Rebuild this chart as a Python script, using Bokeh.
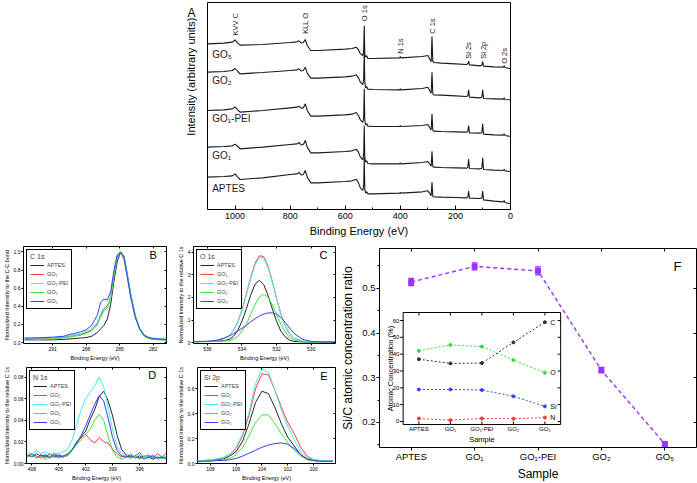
import math
from bokeh.plotting import figure
from bokeh.models import (Range1d, LinearAxis, FixedTicker, Label, Legend, LegendItem,
                          ColumnDataSource, Whisker, TeeHead, PrintfTickFormatter,
                          CustomJSTickFormatter)
from bokeh.layouts import row, column
from bokeh.embed import file_html
from bokeh.resources import INLINE
from bokeh.core.properties import value

FONT = "Liberation Sans"

# ---------------- data ----------------
samples = ["APTES", "GO\u2081", "GO\u2081-PEI", "GO\u2082", "GO\u2085"]

# Panel A: survey spectra (binding energy eV, arbitrary intensity)
survey_ev = [1100, 1040, 1010, 1000, 990, 982, 900, 800, 775, 768, 760, 752, 745, 738, 725, 700,
             600, 575, 560, 552, 545, 536, 533, 531, 529, 526, 522, 518, 500, 402, 400, 398,
             320, 300, 292, 288, 285, 282, 278, 250, 200, 160, 155, 152, 149, 110, 104, 101,
             98, 60, 26, 23, 20, 0]
survey_go5 = [870, 872, 875, 882, 872, 866, 868, 874, 876, 879, 873, 874, 883, 865, 850, 850,
              854, 856, 860, 852, 840, 835, 850, 925, 840, 830, 834, 826, 826, 828, 832, 828,
              832, 835, 822, 816, 892, 817, 814, 812, 810, 808, 810, 818, 807, 804, 806, 817,
              803, 801, 800, 804, 799, 795]
survey_go2 = [785, 787, 790, 796, 787, 780, 784, 790, 792, 795, 789, 790, 800, 782, 767, 767,
              771, 773, 777, 768, 755, 748, 765, 850, 755, 738, 742, 734, 733, 732, 735, 732,
              736, 740, 728, 722, 785, 720, 717, 716, 714, 712, 714, 732, 710, 708, 710, 732,
              706, 705, 704, 708, 703, 702]
survey_go1pei = [670, 672, 675, 681, 672, 665, 670, 678, 680, 683, 677, 678, 690, 670, 653, 653,
                 657, 659, 664, 655, 642, 634, 650, 735, 640, 627, 631, 623, 622, 622, 625, 622,
                 625, 628, 617, 612, 660, 610, 608, 607, 606, 605, 607, 625, 603, 602, 604, 630,
                 599, 597, 596, 600, 595, 592]
survey_go1 = [560, 562, 564, 569, 562, 555, 560, 568, 570, 574, 567, 568, 580, 560, 543, 543,
              547, 549, 554, 545, 530, 522, 540, 625, 530, 515, 519, 511, 510, 510, 513, 510,
              514, 517, 508, 503, 548, 501, 500, 499, 498, 497, 499, 524, 496, 495, 497, 528,
              493, 491, 490, 494, 489, 487]
survey_aptes = [470, 472, 474, 480, 470, 463, 468, 478, 480, 484, 477, 478, 490, 470, 453, 453,
                457, 459, 464, 453, 438, 430, 445, 530, 435, 422, 426, 420, 420, 422, 425, 422,
                426, 429, 420, 414, 455, 412, 411, 410, 409, 408, 410, 428, 407, 406, 408, 428,
                402, 398, 396, 400, 394, 390]
survey_names = ["GO\u2085", "GO\u2082", "GO\u2081-PEI", "GO\u2081", "APTES"]
peak_names = ["KVV C", "KLL O", "O 1s", "N 1s", "C 1s", "Si 2s", "Si 2p", "O 2s"]
peak_ev = [1000, 745, 531, 400, 282, 153, 99, 23]

# Panel B: C 1s
c1s_ev = [293.5, 293, 292, 291, 290, 289.5, 289, 288.5, 288, 287.5, 287, 286.7, 286.4, 286.1,
          285.8, 285.5, 285.2, 284.9, 284.6, 284.3, 284, 283.6, 283.2, 282.8, 282.4, 282, 281.5, 280.8]
c1s_aptes = [0.03, 0.03, 0.03, 0.03, 0.035, 0.04, 0.045, 0.05, 0.055, 0.07, 0.11, 0.15, 0.19, 0.26,
             0.42, 0.68, 0.9, 1.0, 0.95, 0.75, 0.53, 0.3, 0.15, 0.08, 0.05, 0.04, 0.035, 0.03]
c1s_go1 = [0.04, 0.04, 0.045, 0.05, 0.06, 0.07, 0.08, 0.09, 0.11, 0.14, 0.21, 0.3, 0.37, 0.4,
           0.5, 0.75, 0.96, 1.0, 0.93, 0.73, 0.52, 0.29, 0.15, 0.08, 0.05, 0.04, 0.035, 0.03]
c1s_go1pei = [0.05, 0.05, 0.05, 0.055, 0.065, 0.075, 0.085, 0.1, 0.12, 0.15, 0.22, 0.32, 0.38, 0.41,
              0.5, 0.76, 0.96, 1.0, 0.94, 0.74, 0.53, 0.3, 0.16, 0.09, 0.06, 0.05, 0.045, 0.05]
c1s_go2 = [0.03, 0.03, 0.035, 0.04, 0.05, 0.06, 0.07, 0.08, 0.1, 0.13, 0.19, 0.28, 0.35, 0.38,
           0.48, 0.74, 0.95, 1.0, 0.92, 0.71, 0.5, 0.28, 0.14, 0.07, 0.045, 0.035, 0.03, 0.03]
c1s_go5 = [0.05, 0.05, 0.055, 0.06, 0.07, 0.09, 0.1, 0.12, 0.14, 0.19, 0.3, 0.44, 0.48, 0.47,
           0.56, 0.8, 0.97, 1.0, 0.93, 0.72, 0.5, 0.28, 0.15, 0.08, 0.055, 0.045, 0.04, 0.035]

# Panel C: O 1s
o1s_ev = [536.8, 536, 535.5, 535, 534.75, 534.5, 534.25, 534, 533.75, 533.5, 533.25, 533,
          532.75, 532.5, 532.25, 532, 531.75, 531.5, 531.25, 531, 530.5, 530, 529.5, 528.6]
o1s_aptes = [0.05, 0.06, 0.07, 0.1, 0.15, 0.28, 0.54, 0.96, 1.5, 2.1, 2.58, 2.76,
             2.58, 2.1, 1.5, 0.94, 0.51, 0.26, 0.12, 0.06, 0.04, 0.03, 0.03, 0.03]
o1s_go1 = [0.05, 0.06, 0.1, 0.2, 0.32, 0.55, 0.9, 1.45, 2.15, 2.88, 3.5, 3.84,
           3.81, 3.39, 2.72, 1.96, 1.27, 0.74, 0.39, 0.2, 0.07, 0.04, 0.03, 0.03]
o1s_go1pei = [0.05, 0.06, 0.1, 0.2, 0.32, 0.54, 0.88, 1.42, 2.1, 2.82, 3.43, 3.76,
              3.74, 3.33, 2.68, 1.94, 1.26, 0.74, 0.39, 0.2, 0.07, 0.04, 0.03, 0.03]
o1s_go2 = [0.05, 0.05, 0.06, 0.08, 0.1, 0.16, 0.28, 0.5, 0.82, 1.25, 1.68, 2.02,
           2.14, 2.02, 1.68, 1.25, 0.82, 0.48, 0.25, 0.12, 0.04, 0.03, 0.03, 0.03]
o1s_go5 = [0.05, 0.07, 0.1, 0.22, 0.3, 0.4, 0.52, 0.64, 0.78, 0.92, 1.06, 1.18,
           1.27, 1.32, 1.32, 1.26, 1.12, 0.9, 0.65, 0.42, 0.15, 0.06, 0.04, 0.03]

# Panel D: N 1s
n1s_ev = [408.5, 408, 407.5, 407, 406.5, 406, 405.5, 405, 404.5, 404, 403.5, 403, 402.5, 402,
          401.5, 401, 400.5, 400, 399.5, 399, 398.5, 398, 397.5, 397, 396.5, 396, 395.5, 395,
          394.5, 394, 393.5, 393]
n1s_aptes = [0.007, 0.009, 0.005, 0.008, 0.006, 0.009, 0.006, 0.008, 0.006, 0.008, 0.013, 0.020,
             0.025, 0.030, 0.041, 0.050, 0.062, 0.067, 0.058, 0.044, 0.026, 0.013, 0.008, 0.006,
             0.007, 0.005, 0.007, 0.006, 0.004, 0.006, 0.005, 0.006]
n1s_go1 = [0.006, 0.009, 0.007, 0.005, 0.008, 0.006, 0.009, 0.007, 0.006, 0.008, 0.013, 0.019,
           0.024, 0.027, 0.022, 0.019, 0.024, 0.020, 0.019, 0.013, 0.009, 0.006, 0.008, 0.005,
           0.007, 0.010, 0.006, 0.008, 0.005, 0.009, 0.006, 0.010]
n1s_go1pei = [0.011, 0.008, 0.012, 0.009, 0.011, 0.008, 0.010, 0.009, 0.011, 0.013, 0.022, 0.036,
              0.050, 0.060, 0.066, 0.072, 0.080, 0.071, 0.052, 0.031, 0.016, 0.009, 0.007, 0.009,
              0.006, 0.008, 0.007, 0.006, 0.008, 0.005, 0.007, 0.006]
n1s_go2 = [0.006, 0.008, 0.005, 0.007, 0.004, 0.007, 0.006, 0.005, 0.007, 0.007, 0.012, 0.018,
           0.022, 0.027, 0.032, 0.040, 0.046, 0.040, 0.025, 0.012, 0.006, 0.004, 0.006, 0.005,
           0.007, 0.004, 0.006, 0.005, 0.006, 0.004, 0.005, 0.006]
n1s_go5 = [0.008, 0.006, 0.009, 0.007, 0.008, 0.005, 0.008, 0.006, 0.007, 0.009, 0.013, 0.019,
           0.026, 0.035, 0.045, 0.055, 0.063, 0.058, 0.042, 0.024, 0.012, 0.007, 0.006, 0.008,
           0.005, 0.007, 0.004, 0.006, 0.007, 0.005, 0.006, 0.004]

# Panel E: Si 2p
si2p_ev = [109, 108.5, 108, 107.5, 107, 106.5, 106, 105.5, 105, 104.5, 104, 103.5, 103, 102.5,
           102, 101.5, 101, 100.5, 100, 99.5, 99, 98.5]
si2p_aptes = [0.018, 0.024, 0.024, 0.03, 0.036, 0.06, 0.095, 0.18, 0.32, 0.49, 0.58, 0.56, 0.45,
              0.32, 0.21, 0.14, 0.07, 0.036, 0.024, 0.018, 0.018, 0.018]
si2p_go1 = [0.024, 0.024, 0.03, 0.036, 0.047, 0.071, 0.12, 0.225, 0.39, 0.60, 0.72, 0.71, 0.59,
            0.45, 0.33, 0.24, 0.13, 0.06, 0.03, 0.024, 0.018, 0.018]
si2p_go1pei = [0.024, 0.024, 0.03, 0.036, 0.047, 0.071, 0.13, 0.24, 0.41, 0.64, 0.76, 0.73, 0.59,
               0.43, 0.30, 0.19, 0.095, 0.047, 0.03, 0.024, 0.024, 0.018]
si2p_go2 = [0.018, 0.018, 0.024, 0.024, 0.03, 0.041, 0.071, 0.13, 0.225, 0.33, 0.39, 0.39, 0.32,
            0.24, 0.165, 0.107, 0.06, 0.03, 0.024, 0.018, 0.018, 0.018]
si2p_go5 = [0.018, 0.018, 0.018, 0.024, 0.024, 0.03, 0.041, 0.06, 0.083, 0.107, 0.13, 0.148, 0.16,
            0.165, 0.154, 0.12, 0.071, 0.036, 0.024, 0.018, 0.018, 0.018]

# Panel F: Si/C ratio and atomic concentrations
si_c_ratio = [0.514, 0.549, 0.539, 0.317, 0.152]
si_c_err = [0.008, 0.008, 0.009, 0.006, 0.005]
conc_C = [37.0, 34.5, 34.7, 47.0, 59.0]
conc_O = [42.0, 45.5, 44.5, 36.5, 29.0]
conc_Si = [19.0, 19.0, 18.7, 15.0, 9.0]
conc_N = [1.8, 0.8, 1.8, 1.7, 2.3]
elements = ["C", "O", "Si", "N"]
inset_yticks = [0, 10, 20, 30, 40, 50, 60]

# ---------------- styles ----------------
spec_colors = ["#262626", "#ff3b3b", "#3ef0f0", "#3de63d", "#3b3bff"]
elem_colors = ["#333333", "#33dd33", "#3344ff", "#ff3333"]
VIOLET = "#9933ff"


def base(p):
    p.grid.visible = False
    p.outline_line_color = "black"
    p.outline_line_width = 1
    p.outline_line_alpha = 1
    p.background_fill_color = "white"
    p.border_fill_color = "white"


def style_axis(ax, tick_font, title_font, tick_out=2, tick_in=0, lab_off=1, title_off=1):
    ax.axis_line_color = None
    ax.major_tick_line_color = "black"
    ax.major_tick_out = tick_out
    ax.major_tick_in = tick_in
    ax.minor_tick_line_color = None
    ax.major_label_text_font = FONT
    ax.major_label_text_font_size = tick_font
    ax.major_label_text_color = "black"
    ax.major_label_standoff = lab_off
    ax.axis_label_text_font = FONT
    ax.axis_label_text_font_size = title_font
    ax.axis_label_text_font_style = "normal"
    ax.axis_label_text_color = "black"
    ax.axis_label_standoff = title_off


def mirror_axis(ticks, length=2):
    ax = LinearAxis(ticker=FixedTicker(ticks=ticks))
    ax.formatter = CustomJSTickFormatter(code="return ''")
    ax.axis_line_color = None
    ax.major_tick_in = length
    ax.major_tick_out = 0
    ax.minor_tick_line_color = None
    ax.major_label_text_font_size = "1px"
    ax.major_label_standoff = 0
    return ax


# ---------------- Panel A ----------------
# left strip holding the panel letter and the vertical axis title (pixel coordinates)
pA_side = figure(width=200, height=240, x_range=Range1d(0, 200), y_range=Range1d(0, 240),
                 output_backend="svg", toolbar_location=None,
                 x_axis_location=None, y_axis_location=None, min_border=0)
pA_side.grid.visible = False
pA_side.outline_line_color = None
pA_side.text(x=[191], y=[228], text=["A"], text_font=value(FONT), text_font_size="12px",
             text_align="center", text_baseline="middle", text_color="black")
pA_side.text(x=[190], y=[154], text=["Intensity (arbitrary units)"], angle=math.pi / 2,
             text_font=value(FONT), text_font_size="11px", text_align="center",
             text_baseline="middle", text_color="black")

pA = figure(width=497, height=240, x_range=Range1d(1100, 0), y_range=Range1d(373, 994),
            output_backend="svg", toolbar_location=None, y_axis_location=None,
            min_border_left=7, min_border_right=187, min_border_top=2, min_border_bottom=31)
base(pA)
pA.xaxis.ticker = FixedTicker(ticks=[0, 200, 400, 600, 800, 1000],
                              minor_ticks=[100, 300, 500, 700, 900])
style_axis(pA.xaxis[0], "9px", "11px", tick_out=0, tick_in=4, lab_off=3, title_off=3)
pA.xaxis.minor_tick_line_color = "black"
pA.xaxis.minor_tick_in = 2
pA.xaxis.minor_tick_out = 0
pA.xaxis.axis_label = "Binding Energy (eV)"

for ys in [survey_go5, survey_go2, survey_go1pei, survey_go1, survey_aptes]:
    pA.line(survey_ev, ys, line_color="#1a1a1a", line_width=1.1)

pA.text(x=[1083] * 5, y=[837, 760, 645, 535, 435], text=survey_names,
        text_font=value(FONT), text_font_size="10px", text_color="#1a1a1a",
        text_align="left", text_baseline="middle")
pA.text(x=peak_ev, y=[895, 900, 938, 840, 900, 825, 825, 810], text=peak_names,
        angle=math.pi / 2, text_font=value(FONT), text_font_size="7.5px",
        text_color="#1a1a1a", text_align="left", text_baseline="middle")


# ---------------- small spectrum panels ----------------
def spectrum_panel(w, h, xr, yr, xticks, yticks, fmt, ytitle, xs, curves, ltitle, mb, letter_xy, letter):
    p = figure(width=w, height=h, x_range=Range1d(*xr), y_range=Range1d(*yr),
               output_backend="svg", toolbar_location=None,
               min_border_left=mb[0], min_border_right=mb[1],
               min_border_top=mb[2], min_border_bottom=mb[3])
    base(p)
    p.xaxis.ticker = FixedTicker(ticks=xticks)
    p.yaxis.ticker = FixedTicker(ticks=yticks)
    p.yaxis.formatter = PrintfTickFormatter(format=fmt)
    style_axis(p.xaxis[0], "5px", "5.5px")
    style_axis(p.yaxis[0], "5px", "5.5px")
    p.xaxis.axis_label = "Binding Energy (eV)"
    p.yaxis.axis_label = ytitle
    rends = []
    for ys, col in zip(curves, spec_colors):
        rends.append(p.line(xs, ys, line_color=col, line_width=1))
    p.add_layout(mirror_axis(xticks), "above")
    p.add_layout(mirror_axis(yticks), "right")
    items = [LegendItem(label=n, renderers=[r]) for n, r in zip(samples, rends)]
    lg = Legend(items=items, location="top_left", title=ltitle,
                label_text_font=FONT, label_text_font_size="5.5px",
                title_text_font=FONT, title_text_font_size="7px", title_text_font_style="normal",
                label_height=8, glyph_height=8, glyph_width=14, label_standoff=3, spacing=1,
                padding=3, margin=3, title_standoff=1,
                border_line_color="black", border_line_width=1, border_line_alpha=1,
                background_fill_alpha=1)
    p.add_layout(lg)
    p.add_layout(Label(x=letter_xy[0], y=letter_xy[1], text=letter, text_font=FONT,
                       text_font_size="11px", text_align="center", text_baseline="middle",
                       text_color="black"))
    return p


pB = spectrum_panel(174, 123, (293.6, 280.8), (-0.01, 1.06), [291, 288, 285, 282],
                    [0, 0.2, 0.4, 0.6, 0.8, 1.0], "%.1f", "Normalized Intensity to the C-C bond",
                    c1s_ev, [c1s_aptes, c1s_go1, c1s_go1pei, c1s_go2, c1s_go5], "C 1s",
                    (17, 8, 6, 15), (282.0, 0.97), "B")
pC = spectrum_panel(164, 123, (536.8, 528.6), (-0.03, 4.25), [536, 534, 532, 530],
                    [0, 1, 2, 3, 4], "%d", "Normalized Intensity to the relative C 1s",
                    o1s_ev, [o1s_aptes, o1s_go1, o1s_go1pei, o1s_go2, o1s_go5], "O 1s",
                    (17, 3, 6, 15), (529.3, 3.87), "C")
pD = spectrum_panel(174, 120, (408.6, 393.0), (0.0, 0.089), [408, 405, 402, 399, 396],
                    [0, 0.02, 0.04, 0.06, 0.08], "%.2f", "Normalized Intensity to the relative C 1s",
                    n1s_ev, [n1s_aptes, n1s_go1, n1s_go1pei, n1s_go2, n1s_go5], "N 1s",
                    (17, 8, 4, 16), (394.6, 0.082), "D")
pE = spectrum_panel(164, 120, (109.0, 98.3), (0.0, 0.77), [108, 106, 104, 102, 100],
                    [0, 0.2, 0.4, 0.6], "%.1f", "Normalized Intensity to the relative C 1s",
                    si2p_ev, [si2p_aptes, si2p_go1, si2p_go1pei, si2p_go2, si2p_go5], "Si 2p",
                    (17, 3, 4, 16), (99.2, 0.70), "E")

# ---------------- Panel F ----------------
f_idx = list(range(1, len(samples) + 1))
pF = figure(width=359, height=243, x_range=Range1d(0.5, 5.5), y_range=Range1d(0.144, 0.589),
            output_backend="svg", toolbar_location=None,
            min_border_left=36, min_border_right=1, min_border_top=8, min_border_bottom=36)
base(pF)
pF.xaxis.ticker = FixedTicker(ticks=f_idx)
pF.xaxis.major_label_overrides = {i: s for i, s in zip(f_idx, samples)}
style_axis(pF.xaxis[0], "9.5px", "12px", tick_out=3, lab_off=0, title_off=2)
pF.xaxis.axis_label = "Sample"
pF.yaxis.ticker = FixedTicker(ticks=[0.2, 0.3, 0.4, 0.5], minor_ticks=[0.15, 0.25, 0.35, 0.45, 0.55])
pF.yaxis.formatter = PrintfTickFormatter(format="%.1f")
style_axis(pF.yaxis[0], "9.5px", "12px", tick_out=3, lab_off=1, title_off=4)
pF.yaxis.minor_tick_line_color = "black"
pF.yaxis.minor_tick_out = 2
pF.yaxis.minor_tick_in = 0
pF.yaxis.axis_label = "Si/C atomic concentration ratio"
pF.add_layout(mirror_axis(f_idx, 3), "above")
pF.add_layout(mirror_axis([0.2, 0.3, 0.4, 0.5], 3), "right")

# inset (drawn on its own ranges mapped inside panel F)
pF.extra_x_ranges = {"ix": Range1d(-0.25, 9.8125)}
pF.extra_y_ranges = {"iy": Range1d(-15.45, 102.78)}
IX0, IX1, IY0, IY1 = 0.5, 5.5, -1.8, 64.75
TX, TY = 0.094, 1.78
kw = dict(x_range_name="ix", y_range_name="iy")
pF.quad(left=[IX0], right=[IX1], bottom=[IY0], top=[IY1], fill_color="white",
        line_color="black", line_width=1, **kw)
pF.segment(x0=[IX0] * len(inset_yticks), x1=[IX0 - TX] * len(inset_yticks),
           y0=inset_yticks, y1=inset_yticks, line_color="black", line_width=1, **kw)
pF.segment(x0=[IX1] * len(inset_yticks), x1=[IX1 - TX] * len(inset_yticks),
           y0=inset_yticks, y1=inset_yticks, line_color="black", line_width=1, **kw)
pF.segment(x0=f_idx, x1=f_idx, y0=[IY0] * 5, y1=[IY0 + TY] * 5, line_color="black", line_width=1, **kw)
pF.segment(x0=f_idx, x1=f_idx, y0=[IY1] * 5, y1=[IY1 - TY] * 5, line_color="black", line_width=1, **kw)
pF.text(x=[IX0 - 0.12] * len(inset_yticks), y=inset_yticks, text=[str(t) for t in inset_yticks],
        text_font=value(FONT), text_font_size="6px", text_align="right", text_baseline="middle",
        text_color="black", **kw)
pF.text(x=f_idx, y=[IY0 - 2.4] * 5, text=samples, text_font=value(FONT), text_font_size="6px",
        text_align="center", text_baseline="middle", text_color="black", **kw)
pF.text(x=[3.0], y=[-10.7], text=["Sample"], text_font=value(FONT), text_font_size="7.5px",
        text_align="center", text_baseline="middle", text_color="black", **kw)
pF.text(x=[IX0 - 0.39], y=[(IY0 + IY1) / 2], text=["Atomic Concentration (%)"], angle=math.pi / 2,
        text_font=value(FONT), text_font_size="7.5px", text_align="center", text_baseline="middle",
        text_color="black", **kw)
for vals, col in zip([conc_C, conc_O, conc_Si, conc_N], elem_colors):
    pF.line(f_idx, vals, line_color=col, line_width=1, line_dash="2 2", **kw)
    pF.scatter(f_idx, vals, size=3, marker="circle", fill_color=col, line_color=col, **kw)
pF.text(x=[f_idx[-1] + 0.17] * 4, y=[conc_C[-1], conc_O[-1], conc_Si[-1], conc_N[-1]], text=elements,
        text_font=value(FONT), text_font_size="7px", text_align="left", text_baseline="middle",
        text_color="black", **kw)

# main Si/C series
srcF = ColumnDataSource(dict(x=f_idx, y=si_c_ratio,
                             lo=[r - e for r, e in zip(si_c_ratio, si_c_err)],
                             hi=[r + e for r, e in zip(si_c_ratio, si_c_err)]))
pF.line("x", "y", source=srcF, line_color=VIOLET, line_width=1.4, line_dash="4 3")
pF.add_layout(Whisker(source=srcF, base="x", upper="hi", lower="lo", line_color=VIOLET, line_width=1.2,
                      upper_head=TeeHead(size=6, line_color=VIOLET, line_width=1.2),
                      lower_head=TeeHead(size=6, line_color=VIOLET, line_width=1.2)))
pF.scatter("x", "y", source=srcF, marker="square", size=5, fill_color=VIOLET, line_color=VIOLET)
pF.add_layout(Label(x=5.2, y=0.549, text="F", text_font=FONT, text_font_size="13px",
                    text_align="center", text_baseline="middle", text_color="black"))

root = column(row(pA_side, pA), row(column(row(pB, pC), row(pD, pE)), pF))
open("out.html", "w").write(file_html(root, INLINE))
